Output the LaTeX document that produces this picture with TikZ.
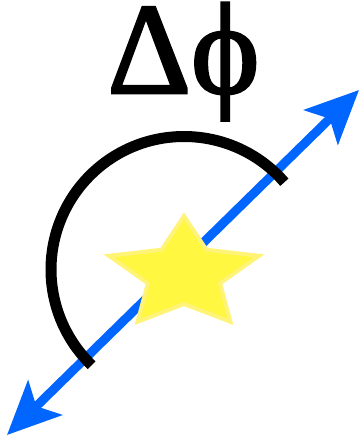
\documentclass[tikz,border=0pt]{standalone}
\usepackage{fontspec}
\setmainfont{Liberation Serif}
\newfontfamily\lblfont{Liberation Serif}[FakeBold=2]
\usetikzlibrary{arrows.meta}
\definecolor{arrowblue}{RGB}{0,102,255}
\definecolor{starfill}{RGB}{255,247,64}
\definecolor{staredge}{RGB}{255,244,120}
\tikzset{
  pol/.style={arrowblue, line width=9pt,
    {Stealth[length=53pt,width=48pt,inset=12pt]}-{Stealth[length=53pt,width=48pt,inset=12pt]}},
  anglearc/.style={black, line width=11pt},
  starshape/.style={fill=starfill, draw=staredge, line width=4pt, line join=miter},
  label/.style={inner sep=0pt, font=\lblfont\fontsize{130}{130}\selectfont}
}
\begin{document}
\begin{tikzpicture}[x=1pt,y=-1pt]
\useasboundingbox (0,0) rectangle (364,440);
\coordinate (a) at (7,435);
\coordinate (b) at (359,90);
\coordinate (c) at (184,269.5);
\draw[pol] (a) -- (b);
\draw[anglearc] (c) ++(-41:133) arc[start angle=-41,end angle=-226,radius=133];
\draw[starshape] (184,216) -- (161.7,249.7) -- (108.9,255.8) -- (147.9,283.3) -- (137.6,321.7)
  -- (184,304) -- (230.4,321.7) -- (220.1,283.3) -- (259.1,255.8) -- (206.3,249.7) -- cycle;
\node[label, anchor=base] (t) at (183.5,93) {\smash{Δϕ}};
\end{tikzpicture}
\end{document}
